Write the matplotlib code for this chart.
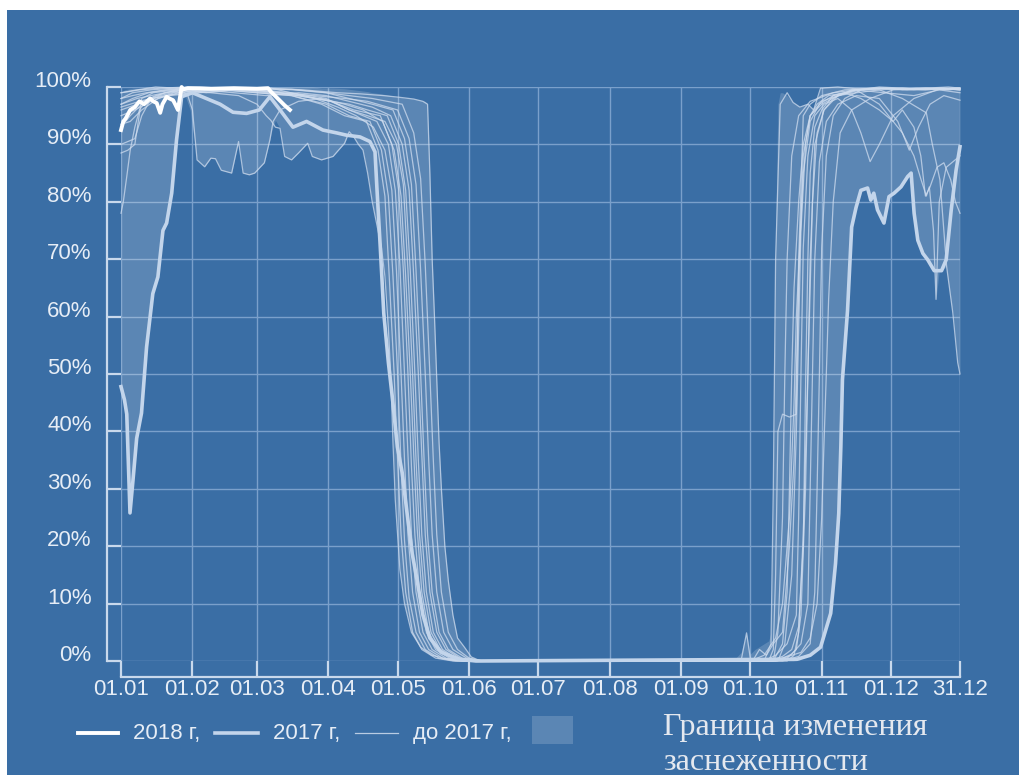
import matplotlib
matplotlib.use('Agg')
import matplotlib.pyplot as plt
from matplotlib.lines import Line2D
from matplotlib.patches import Rectangle

plt.rcParams['font.family'] = ['Liberation Sans', 'DejaVu Sans']

# ---------------- data (day of year, snow cover %) ----------------
tick_days = [1, 32, 60, 91, 121, 152, 182, 213, 244, 274, 305, 335, 365]
tick_labels = ['01.01', '01.02', '01.03', '01.04', '01.05', '01.06', '01.07',
               '01.08', '01.09', '01.10', '01.11', '01.12', '31.12']
y_ticks = [0, 10, 20, 30, 40, 50, 60, 70, 80, 90, 100]
y_labels = ['0%', '10%', '20%', '30%', '40%', '50%', '60%', '70%', '80%', '90%', '100%']

y2018 = [(1, 92.5), (2, 94), (3, 94.5), (5, 96), (7, 96.5), (9, 97.5), (11, 97), (13.6, 98),
         (15, 97.5), (16.5, 97.2), (18, 95.5), (19, 97), (20.8, 98.3), (22, 98), (23.6, 97.7),
         (24.5, 97), (25.7, 96), (27.3, 100), (28, 99.6), (30, 99.8), (40, 99.7), (50, 99.8),
         (60, 99.7), (64.8, 99.8), (66, 99.2), (68, 98.4), (70, 97.6), (72, 96.8), (74.3, 96)]

y2017 = [(1, 47.8), (2.5, 45.5), (3.5, 43), (4.9, 25.8), (6.2, 31.5), (7.8, 38.8), (9.9, 43.2),
         (12.1, 54.7), (14.8, 64), (17, 66.9), (19.2, 75), (20.8, 76.3), (23, 81.5), (25.1, 90.8),
         (27.3, 98.3), (32, 99), (38, 98), (44, 97), (49.6, 95.6), (55.5, 95.4), (61, 96),
         (65.6, 98.3), (70, 96), (75.6, 93), (81.5, 94), (88.6, 92.5), (94.6, 92), (98.9, 91.6),
         (104.7, 91.3), (109, 90.5), (111.2, 88.7), (112, 82.6), (113.5, 72), (115, 60.6),
         (117, 52), (118.7, 46), (120.9, 37.3), (123, 32.8), (125.1, 25.8), (127.3, 18.8),
         (129.5, 14), (132, 8), (135, 4), (140, 1.5), (148, 0.3), (155, 0), (294.3, 0.3),
         (300, 1), (304.5, 2.4), (308.9, 8.3), (311, 17), (312.4, 25.7), (313.3, 37.3),
         (314, 49), (316.2, 61), (318, 75.6), (319.9, 79), (322, 82), (324.9, 82.4),
         (326.3, 80.3), (327.6, 81.5), (329.2, 78.6), (332, 76.3), (334.2, 80.9), (336.4, 81.5),
         (339.4, 82.6), (342.3, 84.4), (343.8, 85), (345.1, 78), (346.7, 73.3), (348.9, 71),
         (351, 69.9), (353.8, 68), (357, 68), (359, 69.9), (361.2, 78.6), (363.3, 85.5), (365, 89.6)]

y2003 = [(1, 88.5), (4, 89), (7, 90), (10, 98), (15, 99), (25, 99.5), (40, 99.8), (55, 99.5),
         (70, 99), (85, 98), (100, 97), (108, 96), (116.5, 95), (121.5, 90), (124.5, 82),
         (126.5, 68), (128.5, 50), (130, 35), (131.5, 22), (133.5, 12), (136.5, 5), (140.5, 2),
         (146.5, 0.5), (153, 0),
         (278, 0), (288, 0.5), (296, 1.5), (300, 4), (303, 10), (305, 25), (306, 38), (307, 50),
         (308, 63), (310, 80), (313, 92), (318, 96), (326, 98), (336, 99.5), (346, 99.8),
         (356, 99.7), (365, 99.8)]
y2004 = [(1, 97), (8, 98), (20, 99), (27, 99.5), (30, 98.5), (32, 96), (34, 87.3), (37.3, 86.1),
         (40, 87.6), (42, 87.5), (44.5, 85.5), (49, 85), (52, 90.5), (54, 85), (56.7, 84.7),
         (59, 85), (63.2, 86.8), (65.6, 90.8), (67, 94), (70, 96), (78, 97.5), (88, 98), (98, 97),
         (106, 96), (114.5, 94), (119.5, 89), (122.5, 81), (124.5, 67), (126.5, 50), (128, 36),
         (129.5, 23), (131.5, 12), (134.5, 5), (138.5, 2), (144.5, 0.5), (152, 0),
         (274, 0), (280, 1), (285, 4),
         (288, 10), (291, 25), (293, 45), (294, 60), (297, 85), (300, 94), (304, 97), (310, 98.5),
         (320, 99.5), (332, 99), (345, 98.5), (356, 99.5), (365, 99)]
y2005 = [(1, 93), (5, 95), (10, 97), (18, 98.5), (28, 99.5), (40, 99), (52, 98.5), (60, 97),
         (64, 95), (66, 94.2), (68, 93), (70, 92.8), (72, 87.9), (75, 87.3), (78, 88.5), (82, 90.2),
         (84, 87.9), (88, 87.3), (93, 87.9), (98, 90.2), (100, 92.2), (102, 91.3), (104, 90),
         (106, 89), (108, 85), (110, 80), (112, 76), (114, 72), (115.5, 67), (117, 58), (118, 50),
         (119, 38), (120, 28), (122, 16), (124, 10), (127, 5), (131, 2.4), (136, 1), (142, 0.4),
         (150, 0), (280, 0), (283, 3), (284, 30), (285, 70), (287, 97), (290, 99), (292.6, 97.3),
         (295.5, 96.5), (299, 97), (301.5, 96), (304.5, 99.8), (312, 100), (320, 99.7),
         (330, 99.5), (340, 99.8), (350, 99.5), (358, 99.7), (365, 99.5)]
y2006 = [(1, 99), (8, 99.5), (16, 100), (25, 99.8), (35, 100), (50, 99.7), (65, 99.8), (80, 99.5),
         (95, 99), (105, 98.8), (115, 98.5), (122, 98.2), (128, 97.9), (132, 97.5), (134, 97),
         (135, 85), (136, 70), (137, 60), (138, 49), (139, 38), (140, 30), (141.5, 20), (143, 14),
         (145, 8), (147, 4), (150, 2.4), (153, 0.7), (157, 0), (285, 0), (290, 0.5), (294, 2),
         (296, 8), (298, 30), (300, 70), (302, 90), (306, 96), (312, 98.5), (320, 99.5),
         (330, 100), (340, 99.8), (350, 99.6), (358, 99.8), (365, 99.5)]
y2007 = [(1, 78), (2, 80), (3.5, 84.4), (5, 89), (7, 93), (9, 96), (12, 97.7), (20, 98.5),
         (30, 99), (45, 99.5), (60, 99), (75, 98.5), (90, 97), (100, 95), (109, 94), (114, 89),
         (117, 81), (119, 67), (121, 50), (122.5, 34), (124, 21), (126, 11), (129, 5), (133, 2),
         (139, 0.5), (146, 0),
         (290, 0), (293, 1), (295, 5),
         (297, 22), (299, 50), (301, 80), (303, 92), (306, 96), (310, 98), (318, 99.5),
         (328, 99.8), (340, 99.5), (350, 99.8), (358, 99.6), (365, 99.8)]
y2008 = [(1, 90), (4, 90.5), (7, 91), (10, 95), (14, 98), (20, 99), (30, 99.5), (45, 99.8),
         (60, 99.5), (75, 99), (90, 98), (100, 96), (112, 94), (117, 90), (120, 82), (122, 69),
         (124, 50), (125.5, 36), (127, 22), (129, 12), (132, 5), (136, 2), (142, 0.5), (149, 0),
         (286, 0), (289, 3), (292, 15), (294, 40), (296, 75), (298, 90), (300, 95),
         (303, 97), (308, 98.5), (315, 99), (322, 98), (330, 96), (336, 94), (340, 96), (345, 93),
         (348, 88), (350, 81), (352, 82.6), (355, 86), (358, 86.8), (361, 83.8), (363, 80),
         (365, 78)]
y2009 = [(1, 96.5), (5, 97), (9, 97.5), (14, 98), (22, 98.5), (35, 99), (50, 99.5), (65, 99),
         (80, 98.5), (92, 97.5), (100, 96), (108, 95), (115.5, 94), (120.5, 90), (123.5, 83),
         (125.5, 68), (127.5, 50), (129, 35), (130.5, 22), (132.5, 12), (135.5, 5), (139.5, 2),
         (145.5, 0.5), (152, 0),
         (284, 0), (288, 3), (290, 12), (291, 30), (292, 50), (293, 65), (295, 80),
         (297, 90), (300, 95), (305, 97.5), (312, 98.5), (320, 99), (330, 99.5), (340, 98),
         (350.4, 95.5), (353, 90), (356.3, 83.8), (359.2, 68.7), (361.9, 60.6), (364, 52),
         (365, 50)]
y2010 = [(1, 98), (6, 98.5), (12, 99), (20, 99.5), (30, 99.8), (45, 99.5), (60, 99), (75, 98.5),
         (88, 97), (98, 95), (107.5, 94), (112.5, 89), (115.5, 81), (117.5, 66), (119.5, 50),
         (121, 35), (122.5, 22), (124.5, 12), (127.5, 5), (131.5, 2), (137.5, 0.5), (145, 0),
         (282, 0), (284, 2), (285, 15), (286, 40), (288, 43), (291, 42.5), (294, 43),
         (295, 70), (297, 95), (300, 97), (305, 98.5), (315, 99.5), (330, 99.8), (345, 99.5),
         (355, 99.8), (365, 99.6)]
y2011 = [(1, 95), (7, 96), (14, 97.5), (24, 99), (40, 99.5), (55, 99.8), (70, 99), (85, 98),
         (95, 96.5), (103, 95), (110.5, 93), (115.5, 89), (118.5, 82), (120.5, 68), (122.5, 50),
         (124, 35), (125.5, 22), (127.5, 12), (130.5, 5), (134.5, 2), (140.5, 0.5), (147, 0),
         (270, 0), (272.4, 4.9), (274, 0.5), (276, 0), (284, 0), (286, 5), (288, 25), (289, 50),
         (290, 70), (292, 88), (295, 95), (300, 97.5), (310, 99), (320, 99.5), (330, 97),
         (340, 92), (345, 88), (348, 84), (350.4, 81), (351.7, 82.6), (353.5, 75), (354.6, 63),
         (356, 80), (359, 86), (362, 87), (365, 88)]
y2012 = [(1, 96), (8, 97), (16, 98.5), (25, 99.5), (38, 99), (52, 99.5), (66, 99.8), (80, 98.5),
         (92, 97.5), (102, 96), (113.5, 95), (118.5, 90), (121.5, 82), (123.5, 68), (125.5, 50),
         (127, 34), (128.5, 22), (130.5, 12), (133.5, 5), (137.5, 2), (143.5, 0.5), (150, 0),
         (275, 0), (278, 2), (281, 1), (284, 3), (288, 5), (291, 20), (293, 35), (294, 50),
         (295.5, 72), (297, 88), (300, 95), (305, 97), (312, 98.5), (322, 99.5), (335, 99.8),
         (348, 99.5), (358, 99.7), (365, 99.5)]
y2013 = [(1, 98), (6, 99), (14, 99.5), (24, 99.8), (36, 99.5), (50, 99), (64, 98.5), (78, 99),
         (90, 98.5), (100, 97.5), (110, 96.5), (118, 95), (123, 90), (126, 82), (128, 67),
         (130, 50), (131.5, 36), (133, 22), (135, 12), (138, 5), (142, 2), (148, 0.5), (155, 0),
         (280, 0), (285, 1), (290, 3), (294, 8), (295, 25), (296, 50), (297, 72), (299, 88),
         (302, 95), (306, 97), (312, 98), (318, 96), (322, 92), (326, 87), (330, 90), (336, 95),
         (345, 98), (355, 99.5), (365, 99.8)]
y2014 = [(1, 99), (9, 99.5), (18, 99.8), (30, 100), (45, 99.8), (60, 99.5), (75, 99.6), (90, 99),
         (100, 98), (110, 97), (119, 96), (124, 91), (127, 83), (129, 68), (131, 50), (132.5, 35),
         (134, 22), (136, 12), (139, 5), (143, 2), (149, 0.5), (156, 0),
         (282, 0), (288, 0.8), (292, 2), (295, 6), (297, 20), (298, 48), (299, 70), (300, 85),
         (302, 93), (305, 96), (310, 98.5), (320, 99.5), (330, 99.8), (340, 99.6), (350, 99.8),
         (360, 100), (365, 99.8)]
y2015 = [(1, 93.5), (5, 94), (10, 96), (17, 98), (26, 99), (40, 99.8), (55, 99.5), (70, 99),
         (85, 98.5), (98, 98), (108, 97.5), (121, 96), (126, 91), (129, 83), (131, 68), (133, 50),
         (134.5, 35), (136, 22), (138, 12), (141, 5), (145, 2), (151, 0.5), (158, 0),
         (285, 0), (292, 1.2), (296, 3), (299, 10), (300, 30), (301, 50), (302, 70), (304, 87),
         (307, 94), (312, 97), (320, 98.5), (330, 98), (338, 94), (343, 89), (347, 93), (352, 97),
         (358, 98.5), (365, 97.7)]
y2016 = [(1, 97), (6, 98), (13, 99), (22, 99.5), (34, 99.8), (48, 99.6), (62, 99.8), (76, 99.5),
         (90, 99), (100, 98.5), (110, 98), (123, 97), (128, 92), (131, 84), (133, 69), (135, 50),
         (136.5, 35), (138, 22), (140, 12), (143, 5), (147, 2), (152, 0.5), (158, 0),
         (288, 0), (295, 0.8), (300, 3), (302, 12), (303, 30), (304, 50), (305, 72), (307, 88),
         (310, 95), (315, 98), (322, 99.5), (332, 99.8), (342, 99.5), (352, 99.7), (360, 99.5),
         (365, 99.7)]

# envelope band: (day, lower, upper)
band = [(1, 47.8, 99), (2.5, 45.5, 99.5), (3.5, 43, 99.6), (4.9, 25.8, 99.7), (6.2, 31.5, 99.8),
        (7.8, 38.8, 99.8), (9.9, 43.2, 99.8), (12.1, 54.7, 100), (14.8, 64, 100), (17, 66.9, 100),
        (19.2, 75, 100), (20.8, 76.3, 100), (23, 81.5, 100), (25.1, 90.8, 100), (27.3, 98.3, 100),
        (29, 98.3, 100), (31, 96, 100), (34, 87.3, 100), (37.3, 86.1, 100), (40, 87.6, 100),
        (42, 87.5, 100), (44.5, 85.5, 100), (49, 85, 100), (52, 90.5, 100), (54, 85, 100),
        (56.7, 84.7, 100), (59, 85, 100), (63.2, 86.8, 100), (65.6, 90.8, 100), (66.5, 92.5, 100),
        (68, 94.2, 100), (70, 92.8, 100), (72, 87.9, 100), (75, 87.3, 100), (78, 88.5, 100),
        (82, 90.2, 100), (84, 87.9, 100), (88, 87.3, 99.8), (93, 87.9, 99.8), (98, 90.2, 99.7),
        (100, 92.2, 99.6), (102, 91.3, 99.5), (104, 90, 99.4), (106, 89, 99.3), (108, 85, 99.2),
        (110, 80, 99), (112, 76, 98.9), (114, 72, 98.8), (115.5, 67, 98.7), (117, 52, 98.6),
        (118, 48, 98.5), (119, 38, 98.4), (120, 28, 98.3), (122, 16, 98.2), (124, 10, 98.1),
        (127, 5, 98), (131, 2.4, 97.7), (133, 1.7, 97.5), (134, 1.4, 97), (135, 1.0, 85),
        (136, 0.9, 70), (137, 0.8, 60), (138, 0.7, 49), (139, 0.6, 38), (140, 0.5, 30),
        (141.5, 0.4, 20), (143, 0.3, 14), (145, 0.2, 8), (147, 0.1, 4), (150, 0, 2.4),
        (153, 0, 0.7), (157, 0, 0), (266.5, 0, 0), (270, 0, 1.5), (272.4, 0, 4.9), (274, 0, 1.2),
        (276, 0, 2), (278, 0, 2.5), (280, 0, 3), (282, 0, 3.5), (283, 0, 5), (284, 0, 30),
        (285, 0, 75), (286, 0, 97), (287, 0, 99), (288, 0, 99), (290, 0, 98.5), (292.6, 0, 97.3),
        (295.5, 0.2, 96.5), (298, 0.8, 97), (300, 1, 96.5), (301.5, 1.5, 96), (303, 2, 98),
        (304.5, 2.4, 99.8), (306, 4, 100), (308.9, 8.3, 100), (311, 17, 100), (312.4, 25.7, 100),
        (313.3, 37.3, 100), (314, 49, 100), (316.2, 61, 100), (318, 75.6, 100), (319.9, 79, 100),
        (322, 82, 100), (324.9, 82.4, 100), (326.3, 80.3, 100), (327.6, 81.5, 100),
        (329.2, 78.6, 100), (332, 76.3, 100), (334.2, 80.9, 100), (336.4, 81.5, 100),
        (339.4, 82.6, 100), (342.3, 84.4, 100), (343.8, 85, 100), (345.1, 78, 100),
        (346.7, 73.3, 100), (348.9, 71, 100), (351, 69.9, 100), (353.8, 68, 100), (354.6, 63, 100),
        (356, 68, 100), (357, 68, 100), (359, 68.7, 100), (361.2, 62, 100), (362, 60.6, 100),
        (364, 52, 100), (365, 50, 99.5)]

older_years = [y2003, y2004, y2005, y2006, y2007, y2008, y2009, y2010,
               y2011, y2012, y2013, y2014, y2015, y2016]

legend_labels = ['2018 г,', '2017 г,', 'до 2017 г,']
band_label = ['Граница изменения', 'заснеженности']

# ---------------- style ----------------
BG = '#3a6ea5'
GRID = '#7aa0cb'
AXC = '#c9d9ec'
TXT = '#e6edf6'
THIN = '#d0ddef'
L2017 = '#c3d5eb'
W, H = 1019, 775

fig = plt.figure(figsize=(W / 100, H / 100), dpi=100, facecolor='white')
fig.patches.append(Rectangle((7 / W, 0), 1 - 7 / W, 765 / H, transform=fig.transFigure,
                             facecolor=BG, edgecolor='none', zorder=-10))

ax = fig.add_axes([121 / W, (H - 661) / H, (960 - 121) / W, (661 - 87) / H])
ax.set_facecolor('none')
ax.set_xlim(1, 365)
ax.set_ylim(0, 100)

for s in ['top', 'right']:
    ax.spines[s].set_visible(False)
ax.spines['left'].set_position(('outward', 14 * 0.72))
ax.spines['bottom'].set_position(('outward', 16 * 0.72))
for s in ['left', 'bottom']:
    ax.spines[s].set_color(AXC)
    ax.spines[s].set_linewidth(1.6)

ax.set_xticks(tick_days, tick_labels)
ax.set_yticks(y_ticks, y_labels)
ax.tick_params(axis='y', direction='in', length=14 * 0.72, width=1.6, color=AXC,
               pad=11, labelsize=16, labelcolor=TXT)
ax.tick_params(axis='x', direction='in', length=16 * 0.72, width=1.6, color=AXC,
               pad=1.5, labelsize=16, labelcolor=TXT)
for lbl in ax.get_yticklabels():
    lbl.set_verticalalignment('baseline')

ax.grid(True, color=GRID, lw=1.0, zorder=0)
ax.set_axisbelow(True)

bd, blo, bhi = zip(*band)
ax.fill_between(bd, blo, bhi, color='white', alpha=0.17, lw=0, zorder=1)

for yr in older_years:
    d, v = zip(*yr)
    ax.plot(d, v, color=THIN, lw=0.9, alpha=0.75, zorder=2, clip_on=False,
            solid_joinstyle='round')

d, v = zip(*y2017)
ax.plot(d, v, color=L2017, lw=2.6, zorder=3, clip_on=False, solid_joinstyle='round')
d, v = zip(*y2018)
ax.plot(d, v, color='white', lw=2.8, zorder=4, clip_on=False, solid_joinstyle='round')

# ---------------- legend ----------------
ly = (H - 733) / H
def fx(px):
    return px / W

fig.add_artist(Line2D([fx(78), fx(118)], [ly, ly], color='white', lw=2.8))
fig.text(fx(133), ly, legend_labels[0], color=TXT, fontsize=16, va='center', ha='left')
fig.add_artist(Line2D([fx(215), fx(258)], [ly, ly], color=L2017, lw=2.6))
fig.text(fx(273), ly, legend_labels[1], color=TXT, fontsize=16, va='center', ha='left')
fig.add_artist(Line2D([fx(355), fx(398)], [ly, ly], color=THIN, lw=0.9, alpha=0.85))
fig.text(fx(413), ly, legend_labels[2], color=TXT, fontsize=16, va='center', ha='left')
fig.patches.append(Rectangle((fx(532), (H - 744) / H), 41 / W, 28 / H, transform=fig.transFigure,
                             facecolor='white', alpha=0.17, edgecolor='none'))
fig.text(fx(663), (H - 735) / H, band_label[0], color='#e4e8ef', fontsize=23,
         family=['Liberation Serif', 'DejaVu Serif'], va='baseline', ha='left')
fig.text(fx(663), (H - 770) / H, band_label[1], color='#e4e8ef', fontsize=23,
         family=['Liberation Serif', 'DejaVu Serif'], va='baseline', ha='left')

fig.savefig('out.png', dpi=100, facecolor=fig.get_facecolor())
